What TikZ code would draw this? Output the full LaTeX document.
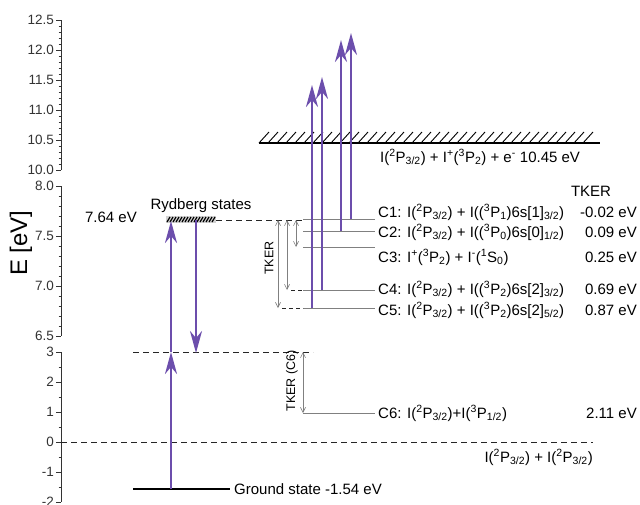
\documentclass[tikz,border=0pt]{standalone}
\usepackage{fontspec}
\setmainfont{Liberation Sans}
\usetikzlibrary{arrows.meta}

\definecolor{pumpviolet}{RGB}{108,78,172}
\newcommand{\trm}[3]{\textsuperscript{#1}#2\textsubscript{#3}}

\tikzset{
  pump/.style={pumpviolet, line width=2.4pt, -{Stealth[length=22pt,width=12pt,inset=7pt]}},
  level/.style={gray, line width=0.7pt},
  limit/.style={black!85, line width=0.8pt, dash pattern=on 6pt off 4pt},
  tker/.style={gray, line width=0.6pt, {Straight Barb[length=5pt,width=5pt]}-{Straight Barb[length=5pt,width=5pt]}},
  lab/.style={font=\fontsize{15}{18}\selectfont, inner sep=0pt},
  small/.style={font=\fontsize{12.5}{15}\selectfont, inner sep=0pt, rotate=90},
  axtick/.style={black!80, line width=0.7pt},
  axnum/.style={font=\fontsize{13.5}{16}\selectfont, inner sep=0pt, anchor=east, black!80}
}

\begin{document}
\begin{tikzpicture}[x=1pt, y=-1pt]
\useasboundingbox (0,0) rectangle (640,504);

\draw[axtick] (61,20) -- (61,170);
\draw[axtick] (61,186) -- (61,336);
\draw[axtick] (61,352) -- (61,502);
\foreach \y in {20,26,...,170} \draw[axtick] (58.5,\y) -- (61,\y);
\foreach \y in {186,196,...,336} \draw[axtick] (58.5,\y) -- (61,\y);
\foreach \y in {352,367,...,502} \draw[axtick] (58.5,\y) -- (61,\y);
\foreach \y/\t in {170/10.0,140/10.5,110/11.0,80/11.5,50/12.0,20/12.5,
                   336/6.5,286/7.0,236/7.5,186/8.0,
                   502/-2,472/-1,442/0,412/1,382/2,352/3} {
  \draw[axtick] (56,\y) -- (61,\y);
  \node[axnum] at (54,\y) {\t};
}
\node[font=\fontsize{24}{28}\selectfont, rotate=90] (ylab) at (21,243) {E [eV]};

\coordinate (gs) at (171,489);
\coordinate (mid) at (171,352);
\coordinate (ryd) at (171,221);
\coordinate (rydb) at (196,220);
\coordinate (midb) at (196,353);

\draw[line width=1.5pt] (133,489) -- (230,489);
\node[lab, anchor=base west] (ground) at (234,494) {Ground state -1.54 eV};

\draw[limit] (61,442) -- (593,442);
\node[lab, anchor=base east] (atoms) at (593,462) {I(\trm{2}{P}{3/2}) + I(\trm{2}{P}{3/2})};
\draw[limit] (133,352) -- (313,352);

\fill[gray!35] (166,216) rectangle (216,223);
\foreach \x in {167,170,...,212} \draw[line width=1.2pt] (\x,222) -- ++(3,-5);
\node[lab, anchor=base] (rydlab) at (201,209) {Rydberg states};
\node[lab, anchor=base east] (rydval) at (137,222) {7.64 eV};
\draw[limit] (216,220) -- (303,220);

\draw[line width=2pt] (259,143) -- (600,143);
\foreach \x in {259,268,...,590} \draw[line width=0.9pt] (\x,143) -- ++(10,-11);
\node[lab, anchor=base west] (ion) at (380,162) {I(\trm{2}{P}{3/2}) + I\textsuperscript{+}(\trm{3}{P}{2}) + e\textsuperscript{-} 10.45 eV};

\node[lab, anchor=base] (tkerhead) at (591,196) {TKER};
\foreach \n/\y/\b/\txt/\val in {
  c1/219/217/{C1: I(\trm{2}{P}{3/2}) + I((\trm{3}{P}{1})6s[1]\textsubscript{3/2})}/{-0.02 eV},
  c2/231/237/{C2: I(\trm{2}{P}{3/2}) + I((\trm{3}{P}{0})6s[0]\textsubscript{1/2})}/{0.09 eV},
  c3/247/262/{C3: I\textsuperscript{+}(\trm{3}{P}{2}) + I\textsuperscript{-}(\trm{1}{S}{0})}/{0.25 eV},
  c4/290/294/{C4: I(\trm{2}{P}{3/2}) + I((\trm{3}{P}{2})6s[2]\textsubscript{3/2})}/{0.69 eV},
  c5/308/315/{C5: I(\trm{2}{P}{3/2}) + I((\trm{3}{P}{2})6s[2]\textsubscript{5/2})}/{0.87 eV},
  c6/413/418/{C6: I(\trm{2}{P}{3/2})+I(\trm{3}{P}{1/2})}/{2.11 eV}} {
  \draw[level] (303,\y) coordinate (\n l) -- (375,\y) coordinate (\n r);
  \node[lab, anchor=base west] (\n) at (378,\b) {\txt};
  \node[lab, anchor=base east] (\n v) at (637,\b) {\val};
}

\draw[limit, dash pattern=on 4pt off 3pt] (291,290) -- (c4l);
\draw[limit, dash pattern=on 4pt off 3pt] (282,308) -- (c5l);
\draw[tker] (278,220) -- (278,308);
\draw[tker] (287,220) -- (287,290);
\draw[tker] (296,220) -- (296,247);
\node[small] (tker) at (269,258) {TKER};
\draw[tker] (303,352) -- (c6l);
\node[small] (tkersix) at (292,381) {TKER (C6)};

\draw[pump] (gs) -- (mid);
\draw[pump] (mid) -- (ryd);
\draw[pump] (rydb) -- (midb);
\draw[pump] (312,308) -- (312,85);
\draw[pump] (322,290) -- (322,77);
\draw[pump] (341,231) -- (341,40);
\draw[pump] (351,219) -- (351,33);
\end{tikzpicture}
\end{document}
